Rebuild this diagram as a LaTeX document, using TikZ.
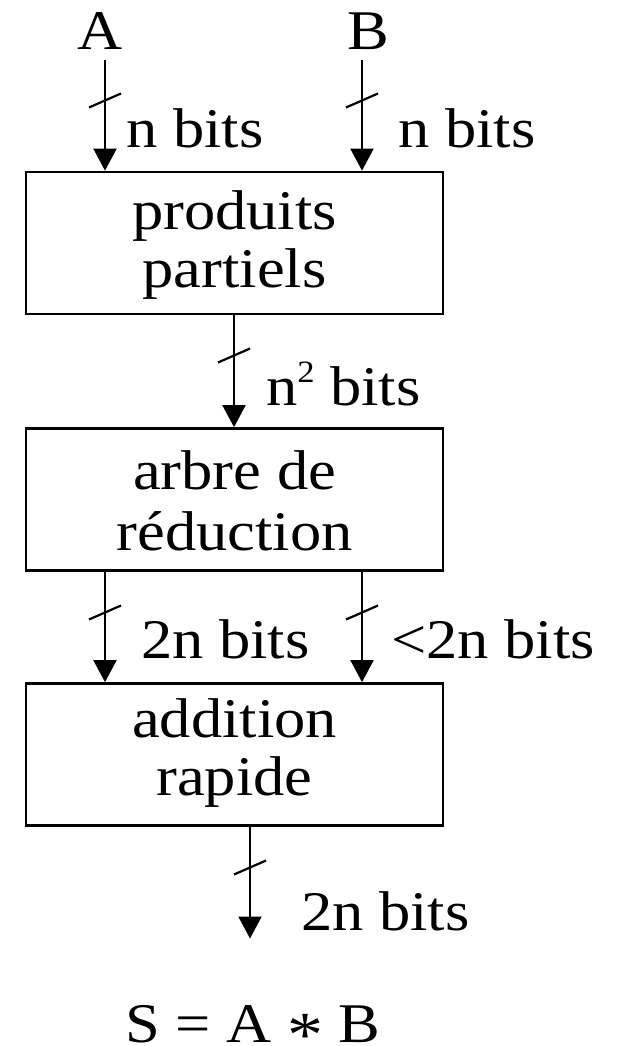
\documentclass[tikz,border=0pt]{standalone}
\usepackage{fontspec}
\setmainfont{Liberation Serif}[FakeStretch=1.116]
\usetikzlibrary{arrows.meta}
\begin{document}
\begin{tikzpicture}[x=1pt,y=-1pt,
  every node/.style={inner sep=0pt, font=\fontsize{56}{58}\selectfont},
  block/.style={draw, line width=2.7pt, minimum width=417pt, minimum height=142pt, align=center, text depth=20pt},
  sig/.style={line width=2pt, -{Triangle[length=22pt,width=23pt]}},
  bus/.pic={\draw[line width=2.2pt] (-16,7) -- (16,-7);},
  lbl/.style={anchor=base west}]
\useasboundingbox (0,0) rectangle (624,1046);

% inputs
\node[anchor=base] (A) at (100,50) {A};
\node[anchor=base] (B) at (368,50) {B};
\coordinate (a0) at (105,60);
\coordinate (b0) at (362,60);

% processing blocks (text height places the last baseline)
\node[block, text height=108pt] (pp) at (234.5,243) {produits\\partiels};
\node[block, text height=121pt] (ar) at (234.5,499.5) {arbre de\\[3pt]réduction};
\node[block, text height=101pt] (ad) at (234.5,754.5) {addition\\rapide};

% buses
\draw[sig] (a0) -- (a0 |- pp.north);
\draw[sig] (b0) -- (b0 |- pp.north);
\pic at (105,100.5) {bus};
\pic at (362,100.5) {bus};
\node[lbl] (la) at (126,147) {n bits};
\node[lbl] (lb) at (398,147) {n bits};

\draw[sig] (234,314) coordinate (m0) -- (m0 |- ar.north);
\pic at (234,355.5) {bus};
\node[lbl] (lm) at (266,405) {n\raisebox{23pt}{\fontsize{31}{31}\selectfont 2} bits};

\draw[sig] (105,571) coordinate (c0) -- (c0 |- ad.north);
\draw[sig] (362,571) coordinate (d0) -- (d0 |- ad.north);
\pic at (105,612.5) {bus};
\pic at (362,612.5) {bus};
\node[lbl] (lc) at (141,658) {2n bits};
\node[lbl] (ld) at (391,658) {<2n bits};

\coordinate (s1) at (250,938.5);
\draw[sig] (s1 |- ad.south) -- (s1);
\pic at (250,867.5) {bus};
\node[lbl] (ls) at (301,930) {2n bits};

% result
\node[anchor=base] (S) at (253,1042) {S = A \raisebox{-0.26em}{\scalebox{1.15}{*}} B};
\end{tikzpicture}
\end{document}
